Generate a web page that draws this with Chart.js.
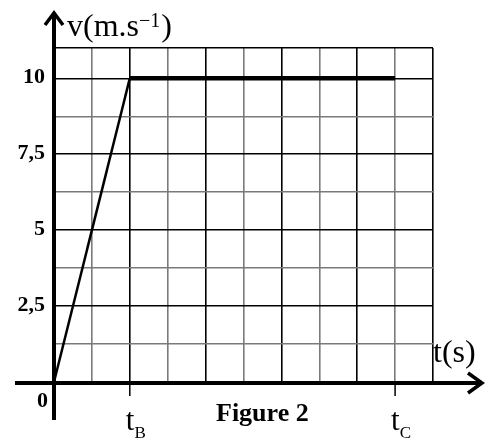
<!DOCTYPE html>
<html>
<head>
<meta charset="utf-8">
<script src="https://cdn.jsdelivr.net/npm/chart.js@4/dist/chart.umd.min.js"></script>
<style>
html,body{margin:0;padding:0;background:#fff;}
#wrap{position:relative;width:494px;height:439px;}
</style>
</head>
<body>
<div id="wrap"><canvas id="c" width="494" height="439"></canvas></div>
<script>
// time in grid units (t_B = 2, t_C = 9), speed in m/s
const timePoints = [0, 2, 9];
const speedValues = [0, 10, 10];
const xGridValues = [0,1,2,3,4,5,6,7,8,9,10];
const yGridValues = [0,1.25,2.5,3.75,5,6.25,7.5,8.75,10,11];
const yTickValues = [2.5, 5, 7.5, 10];
const yTickLabels = ['2,5', '5', '7,5', '10'];
const xTickValues = [2, 9];
const xTickMain = ['t', 't'];
const xTickSubs = ['B', 'C'];
const originLabel = '0';
const xAxisTitle = 't(s)';
const yAxisTitle = 'v(m.s';
const yAxisSup = '\u22121';
const figureTitle = 'Figure 2';

const accelData = [0,1].map(i => ({x: timePoints[i], y: speedValues[i]}));
const uniformData = [1,2].map(i => ({x: timePoints[i], y: speedValues[i]}));

const SERIF = '"Liberation Serif", "DejaVu Serif", serif';

const overlay = {
  id: 'overlay',
  afterDraw(chart) {
    const ctx = chart.ctx;
    const xs = chart.scales.x, ys = chart.scales.y;
    const x0 = xs.getPixelForValue(0);
    const y0 = ys.getPixelForValue(0) + 1;
    ctx.save();
    ctx.strokeStyle = '#000';
    ctx.fillStyle = '#000';
    ctx.lineCap = 'butt';
    // y axis
    ctx.lineWidth = 4;
    ctx.beginPath();
    ctx.moveTo(x0, 420);
    ctx.lineTo(x0, 14);
    ctx.stroke();
    ctx.lineWidth = 3.5;
    ctx.lineJoin = 'miter';
    ctx.beginPath();
    ctx.moveTo(x0 - 9, 25);
    ctx.lineTo(x0, 13);
    ctx.lineTo(x0 + 9, 25);
    ctx.stroke();
    // x axis
    ctx.lineWidth = 4;
    ctx.beginPath();
    ctx.moveTo(15, y0);
    ctx.lineTo(481, y0);
    ctx.stroke();
    ctx.lineWidth = 3.5;
    ctx.beginPath();
    ctx.moveTo(468, y0 - 10);
    ctx.lineTo(482, y0);
    ctx.lineTo(468, y0 + 10);
    ctx.stroke();
    // x ticks t_B, t_C
    ctx.lineWidth = 1.5;
    xTickValues.forEach((v, i) => {
      const px = xs.getPixelForValue(v);
      ctx.beginPath();
      ctx.moveTo(px, y0);
      ctx.lineTo(px, 396);
      ctx.stroke();
      ctx.textAlign = 'left';
      ctx.textBaseline = 'alphabetic';
      ctx.font = '31px ' + SERIF;
      ctx.fillText(xTickMain[i], px - 4, 430);
      const w = ctx.measureText(xTickMain[i]).width;
      ctx.font = '17px ' + SERIF;
      ctx.fillText(xTickSubs[i], px - 4 + w, 438);
    });
    // y tick labels
    ctx.font = 'bold 22px ' + SERIF;
    ctx.textAlign = 'right';
    ctx.textBaseline = 'middle';
    yTickValues.forEach((v, i) => {
      ctx.fillText(yTickLabels[i], 45, ys.getPixelForValue(v) - 1);
    });
    ctx.textAlign = 'center';
    ctx.fillText(originLabel, 42.5, 401);
    // figure title
    ctx.font = 'bold 26px ' + SERIF;
    ctx.textAlign = 'left';
    ctx.textBaseline = 'alphabetic';
    ctx.fillText(figureTitle, 216, 421);
    // x axis title
    ctx.font = '32px ' + SERIF;
    ctx.fillText(xAxisTitle, 433, 362);
    // y axis title
    ctx.font = '32px ' + SERIF;
    ctx.fillText(yAxisTitle, 67, 36);
    let w = ctx.measureText(yAxisTitle).width;
    ctx.font = '20px ' + SERIF;
    ctx.fillText(yAxisSup, 67 + w, 27);
    const w2 = ctx.measureText(yAxisSup).width;
    ctx.font = '32px ' + SERIF;
    ctx.fillText(')', 67 + w + w2 + 1, 36);
    ctx.restore();
  }
};

new Chart(document.getElementById('c'), {
  type: 'scatter',
  data: {
    datasets: [
      {data: accelData, showLine: true, borderColor: '#000', borderWidth: 2.5, pointRadius: 0, tension: 0, clip: false},
      {data: uniformData, showLine: true, borderColor: '#000', borderWidth: 4.5, pointRadius: 0, tension: 0, clip: false, borderCapStyle: 'butt'}
    ]
  },
  options: {
    responsive: false,
    animation: false,
    events: [],
    layout: {padding: {left: 54, top: 48, right: 61, bottom: 57}},
    plugins: {legend: {display: false}, tooltip: {enabled: false}, title: {display: false}},
    scales: {
      x: {
        type: 'linear', min: 0, max: 10,
        afterBuildTicks: s => { s.ticks = xGridValues.map(v => ({value: v})); },
        ticks: {display: false},
        border: {display: false},
        grid: {
          drawTicks: false,
          lineWidth: 1.6,
          color: c => (c.tick && c.tick.value % 2 === 0) ? '#000' : '#7a7a7a'
        }
      },
      y: {
        type: 'linear', min: 0, max: 11,
        afterBuildTicks: s => { s.ticks = yGridValues.map(v => ({value: v})); },
        ticks: {display: false},
        border: {display: false},
        grid: {
          drawTicks: false,
          lineWidth: 1.6,
          color: c => (c.tick && (c.tick.value % 2.5 === 0 || c.tick.value === 11)) ? '#000' : '#7a7a7a'
        }
      }
    }
  },
  plugins: [overlay]
});
</script>
</body>
</html>
